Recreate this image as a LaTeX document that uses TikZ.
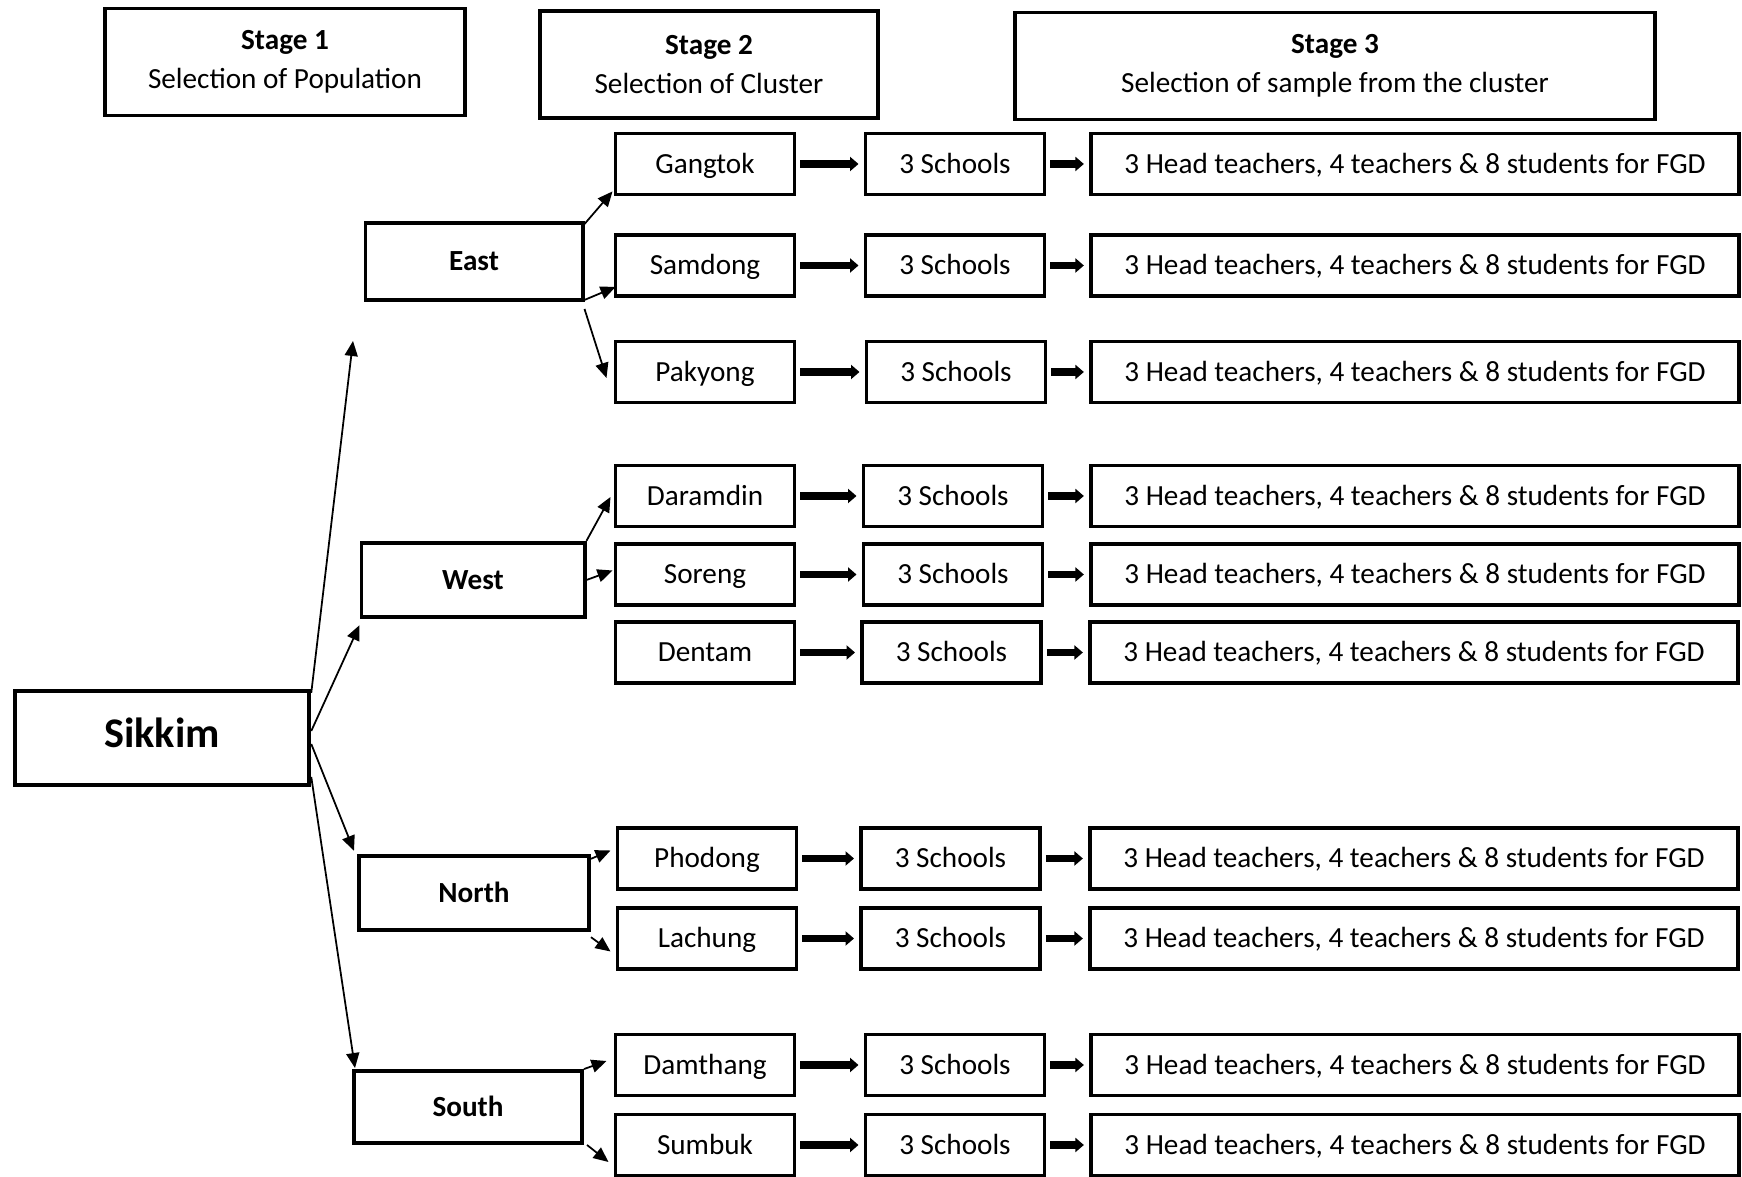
\documentclass[tikz,border=0pt]{standalone}
\usepackage{fontspec}
\setmainfont{Carlito}
\usetikzlibrary{arrows.meta, calc}

\tikzset{
    box/.style={draw, line width=1.1pt, inner sep=0pt, align=center,
        font=\fontsize{8.3}{11}\selectfont},
    stage/.style={box, minimum height=1.07cm},
    line/.style={text height=0.75em, text depth=0.23em},
    region/.style={box, line, font=\fontsize{8.3}{11}\selectfont\bfseries},
    cluster/.style={box, line, minimum width=1.79cm, minimum height=0.61cm},
    sample/.style={box, line, minimum width=6.48cm, minimum height=0.61cm},
    link/.style={-{Triangle[length=0.15cm, width=0.13cm]}, line width=0.5pt},
    fat/.style={-{Triangle[length=0.085cm, width=0.14cm]}, line width=0.075cm,
        shorten <=0.04cm, shorten >=0.05cm},
}

\begin{document}
\begin{tikzpicture}[x=0.01cm, y=-0.01cm]
    \useasboundingbox (0, 0) rectangle (1742, 1177);
    % Stage headings
    \node[stage, minimum width=3.59cm] (St1) at (285, 62) {\textbf{Stage 1}\\Selection of Population};
    \node[stage, minimum width=3.38cm] (St2) at (709, 64.5) {\textbf{Stage 2}\\Selection of Cluster};
    \node[stage, minimum width=6.39cm] (St3) at (1335, 66) {\textbf{Stage 3}\\Selection of sample from the cluster};

    % State and districts
    \node[box, line, minimum width=2.945cm, minimum height=0.945cm,
        font=\fontsize{12}{14}\selectfont\bfseries] (Sikkim) at (162, 738) {Sikkim};
    \node[region, minimum width=2.17cm, minimum height=0.77cm] (East) at (474, 261.5) {East};
    \node[region, minimum width=2.23cm, minimum height=0.745cm] (West) at (473, 580) {West};
    \node[region, minimum width=2.30cm, minimum height=0.745cm] (North) at (474, 893) {North};
    \node[region, minimum width=2.28cm, minimum height=0.72cm] (South) at (468, 1107) {South};
    \coordinate (EastTip) at (353, 341);

    % Clusters, schools and samples
    \node[cluster] (Gangtok) at (705, 164) {Gangtok};
    \node[cluster] (GangtokS) at (955, 164) {3 Schools};
    \node[sample] (GangtokF) at (1415, 164) {3 Head teachers, 4 teachers \& 8 students for FGD};
    \node[cluster] (Samdong) at (705, 265.5) {Samdong};
    \node[cluster] (SamdongS) at (955, 265.5) {3 Schools};
    \node[sample] (SamdongF) at (1415, 265.5) {3 Head teachers, 4 teachers \& 8 students for FGD};
    \node[cluster] (Pakyong) at (705, 372) {Pakyong};
    \node[cluster] (PakyongS) at (956, 372) {3 Schools};
    \node[sample] (PakyongF) at (1415, 372) {3 Head teachers, 4 teachers \& 8 students for FGD};

    \node[cluster] (Daramdin) at (705, 496) {Daramdin};
    \node[cluster] (DaramdinS) at (953, 496) {3 Schools};
    \node[sample] (DaramdinF) at (1415, 496) {3 Head teachers, 4 teachers \& 8 students for FGD};
    \node[cluster] (Soreng) at (705, 574.5) {Soreng};
    \node[cluster] (SorengS) at (953, 574.5) {3 Schools};
    \node[sample] (SorengF) at (1415, 574.5) {3 Head teachers, 4 teachers \& 8 students for FGD};
    \node[cluster] (Dentam) at (705, 652.5) {Dentam};
    \node[cluster] (DentamS) at (951.5, 652.5) {3 Schools};
    \node[sample] (DentamF) at (1414, 652.5) {3 Head teachers, 4 teachers \& 8 students for FGD};

    \node[cluster] (Phodong) at (707, 858.5) {Phodong};
    \node[cluster] (PhodongS) at (950.5, 858.5) {3 Schools};
    \node[sample] (PhodongF) at (1414, 858.5) {3 Head teachers, 4 teachers \& 8 students for FGD};
    \node[cluster] (Lachung) at (707, 938.5) {Lachung};
    \node[cluster] (LachungS) at (950.5, 938.5) {3 Schools};
    \node[sample] (LachungF) at (1414, 938.5) {3 Head teachers, 4 teachers \& 8 students for FGD};

    \node[cluster] (Damthang) at (705, 1065) {Damthang};
    \node[cluster] (DamthangS) at (955, 1065) {3 Schools};
    \node[sample] (DamthangF) at (1415, 1065) {3 Head teachers, 4 teachers \& 8 students for FGD};
    \node[cluster] (Sumbuk) at (705, 1145) {Sumbuk};
    \node[cluster] (SumbukS) at (955, 1145) {3 Schools};
    \node[sample] (SumbukF) at (1415, 1145) {3 Head teachers, 4 teachers \& 8 students for FGD};

    % Arrows from the state
    \draw[link] ($(Sikkim.north east) + (0, 4)$) -- (EastTip);
    \draw[link] ($(Sikkim.east) + (0, -7)$) -- ($(West.south west) + (0, 6)$);
    \draw[link] ($(Sikkim.east) + (0, 6)$) -- ($(North.north west) + (-3, -3)$);
    \draw[link] ($(Sikkim.east) + (0, 39)$) -- ($(South.north west) + (3, -1)$);

    % Arrows from the districts
    \draw[link] ($(East.north east) + (0, 3)$) -- ($(Gangtok.south west) + (-1, -5)$);
    \draw[link] ($(East.south east) + (0, -2)$) -- ($(Samdong.south west) + (2, -11)$);
    \draw[link] ($(East.south east) + (0, 7)$) -- ($(Pakyong.west) + (-7, 6)$);
    \draw[link] (West.north east) -- ($(Daramdin.west) + (-3, 1)$);
    \draw[link] (West.east) -- ($(Soreng.west) + (-1, -4)$);
    \draw[link] ($(North.north east) + (0, 5)$) -- ($(Phodong.west) + (-5, -8)$);
    \draw[link] ($(North.south east) + (0, 5)$) -- ($(Lachung.west) + (-5, 13)$);
    \draw[link] (South.north east) -- ($(Damthang.west) + (-7, -4)$);
    \draw[link] ($(South.south east) + (3, 0)$) -- ($(Sumbuk.west) + (-5, 17)$);

    % Thick arrows along the rows
    \draw[fat] (Gangtok) -- (GangtokS);
    \draw[fat] (GangtokS) -- (GangtokF);
    \draw[fat] (Samdong) -- (SamdongS);
    \draw[fat] (SamdongS) -- (SamdongF);
    \draw[fat] (Pakyong) -- (PakyongS);
    \draw[fat] (PakyongS) -- (PakyongF);
    \draw[fat] (Daramdin) -- (DaramdinS);
    \draw[fat] (DaramdinS) -- (DaramdinF);
    \draw[fat] (Soreng) -- (SorengS);
    \draw[fat] (SorengS) -- (SorengF);
    \draw[fat] (Dentam) -- (DentamS);
    \draw[fat] (DentamS) -- (DentamF);
    \draw[fat] (Phodong) -- (PhodongS);
    \draw[fat] (PhodongS) -- (PhodongF);
    \draw[fat] (Lachung) -- (LachungS);
    \draw[fat] (LachungS) -- (LachungF);
    \draw[fat] (Damthang) -- (DamthangS);
    \draw[fat] (DamthangS) -- (DamthangF);
    \draw[fat] (Sumbuk) -- (SumbukS);
    \draw[fat] (SumbukS) -- (SumbukF);
\end{tikzpicture}
\end{document}
